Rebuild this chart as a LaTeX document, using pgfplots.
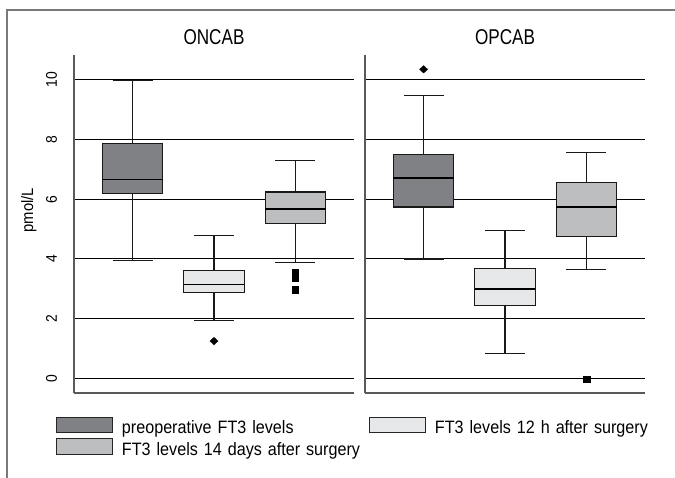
\documentclass[border=0pt]{standalone}
\usepackage{pgfplots}
\pgfplotsset{compat=1.18}
\usepgfplotslibrary{statistics}
\usepackage{fontspec}
\setmainfont{Liberation Sans}[FakeStretch=0.9]
\newfontfamily\titlefont{Liberation Sans}[FakeStretch=0.8]

\definecolor{preop}{HTML}{808184}
\definecolor{twelve}{HTML}{E6E7E8}
\definecolor{fourteen}{HTML}{BCBEC0}
\definecolor{framegray}{HTML}{7A7A7A}
\definecolor{spine}{HTML}{5A5A5A}

\pgfplotsset{
  panel/.style={
    scale only axis, width=280bp, height=338bp,
    xmin=0.28, xmax=3.72, ymin=-0.49, ymax=10.83,
    xtick=\empty, ytick={0,2,...,10},
    major tick length=0pt,
    ymajorgrids, grid style={black, line width=1bp},
    axis x line*=bottom, axis y line*=left,
    axis line style={spine, line width=1.3bp, -},
    /pgf/number format/assume math mode=true,
    title style={at={(0.5,1)}, anchor=base, yshift=4.3bp,
      font=\titlefont\fontsize{21.5}{24}\selectfont},
    boxplot/draw direction=y,
    boxplot/box extend=0.74, boxplot/whisker extend=0.49,
  },
  bx/.style={black!90, line width=1.2bp, forget plot,
    boxplot/every box/.style={draw=black!90, fill=#1},
    boxplot/every median/.style={black, line width=1.7bp}},
  dia/.style={mark=diamond*, mark size=3.7bp,
    mark options={xscale=1.45, fill=black, draw=black, line width=0.4bp}},
  sq/.style={mark=square*, mark size=3.3bp,
    mark options={fill=black, draw=black, line width=0.4bp}},
  legbox/.style={legend image code/.code={
    \draw[black!85, line width=1bp, fill=#1] (0bp,-4.65bp) rectangle (56bp,10.85bp);}},
}

\begin{document}
\begin{tikzpicture}
\useasboundingbox (0,0) rectangle (675bp,-478bp);
\draw[framegray, line width=2bp] (675bp,-10bp) -- (7bp,-10bp) -- (7bp,-478bp);

% ONCAB
\begin{axis}[panel, at={(74bp,-393bp)}, anchor=south west,
  title={ONCAB},
  ylabel={pmol/L},
  ylabel style={at={(axis description cs:-0.161,0.541)}, anchor=center,
    font=\fontsize{16.5}{18}\selectfont},
  yticklabel style={xshift=-22.5bp, rotate=90, anchor=center, inner sep=0pt,
    font=\fontsize{15.5}{17}\selectfont},
  legend columns=2, legend cell align=left,
  legend style={at={(axis description cs:-0.0643,-0.0701)}, anchor=north west,
    draw=none, fill=none, inner sep=0pt, outer sep=0pt,
    font=\fontsize{18}{20}\selectfont, row sep=3bp, column sep=9bp,
    nodes={inner sep=0pt, text width=238bp, align=left}},
]
\addplot[bx=preop, boxplot prepared={draw position=1,
  lower whisker=3.95, lower quartile=6.2, median=6.66,
  upper quartile=7.87, upper whisker=9.97}] coordinates {};
\addplot[bx=twelve, dia, boxplot prepared={draw position=2,
  lower whisker=1.95, lower quartile=2.88, median=3.14,
  upper quartile=3.62, upper whisker=4.78}]
  table[row sep=\\, y index=0] {data\\ 1.25\\};
\addplot[bx=fourteen, sq, boxplot prepared={draw position=3,
  lower whisker=3.88, lower quartile=5.18, median=5.68,
  upper quartile=6.24, upper whisker=7.31}]
  table[row sep=\\, y index=0] {data\\ 3.54\\ 3.38\\ 2.97\\};

\addlegendimage{legbox=preop}
\addlegendentry{preoperative FT3 levels}
\addlegendimage{legbox=twelve}
\addlegendentry{FT3 levels 12 h after surgery}
\addlegendimage{legbox=fourteen}
\addlegendentry{FT3 levels 14 days after surgery}
\end{axis}

% OPCAB
\begin{axis}[panel, at={(365bp,-393bp)}, anchor=south west,
  title={OPCAB}, yticklabels={}]
\addplot[bx=preop, dia, boxplot prepared={draw position=1,
  lower whisker=4.0, lower quartile=5.74, median=6.72,
  upper quartile=7.5, upper whisker=9.47}]
  table[row sep=\\, y index=0] {data\\ 10.35\\};
\addplot[bx=twelve, boxplot prepared={draw position=2,
  lower whisker=0.84, lower quartile=2.43, median=3.0,
  upper quartile=3.68, upper whisker=4.95}] coordinates {};
\addplot[bx=fourteen, sq, boxplot prepared={draw position=3,
  lower whisker=3.64, lower quartile=4.74, median=5.74,
  upper quartile=6.55, upper whisker=7.57}]
  table[row sep=\\, y index=0] {data\\ -0.03\\};
\end{axis}
\end{tikzpicture}
\end{document}
